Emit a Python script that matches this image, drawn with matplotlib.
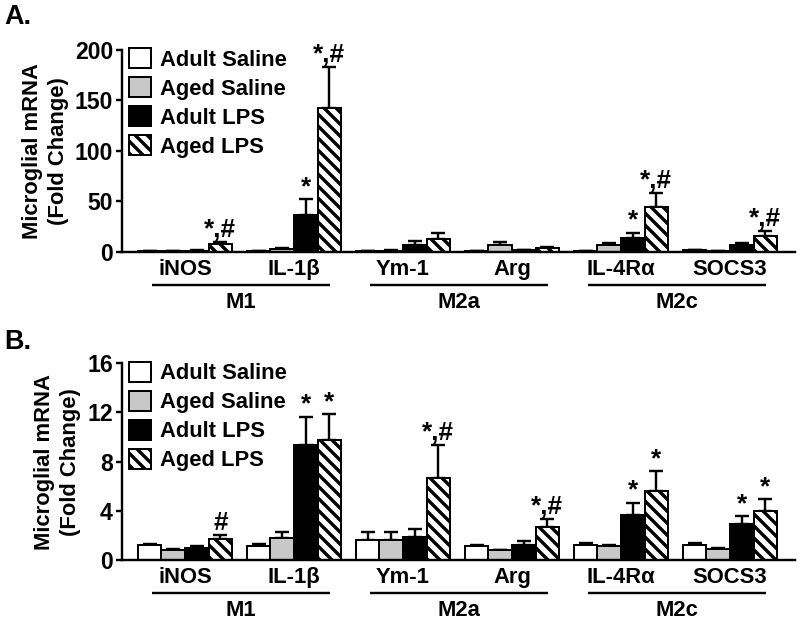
import matplotlib
matplotlib.use('Agg')
import matplotlib.pyplot as plt
import matplotlib.transforms as mtransforms
import numpy as np

matplotlib.rc('font', family=['Liberation Sans', 'DejaVu Sans'], weight='bold', size=10.5)
matplotlib.rc('axes', labelweight='bold')
matplotlib.rc('hatch', linewidth=1.7)

genes = ['iNOS', 'IL-1β', 'Ym-1', 'Arg', 'IL-4Rα', 'SOCS3']
phenotypes = ['M1', 'M2a', 'M2c']
groups = ['Adult Saline', 'Aged Saline', 'Adult LPS', 'Aged LPS']

# panel A values (fold change) and SEM
a_adult_sal = [1.0, 1.0, 1.0, 1.0, 1.0, 1.5]
a_aged_sal = [0.7, 2.5, 1.2, 7.3, 7.0, 1.0]
a_adult_lps = [1.2, 37.0, 7.0, 1.5, 14.0, 7.0]
a_aged_lps = [7.5, 143.0, 13.0, 3.7, 45.0, 16.0]
a_adult_sal_err = [0.2, 0.3, 0.3, 0.3, 0.3, 0.3]
a_aged_sal_err = [0.2, 1.0, 0.5, 2.5, 1.5, 0.3]
a_adult_lps_err = [0.3, 15.0, 4.0, 0.5, 5.0, 1.5]
a_aged_lps_err = [2.5, 40.0, 6.0, 1.5, 13.0, 4.5]
a_marks = [['', '', '', '*,#'], ['', '', '*', '*,#'], ['', '', '', ''],
           ['', '', '', ''], ['', '', '*', '*,#'], ['', '', '', '*,#']]

# panel B values (fold change) and SEM
b_adult_sal = [1.2, 1.15, 1.65, 1.15, 1.2, 1.2]
b_aged_sal = [0.8, 1.8, 1.65, 0.8, 1.1, 0.9]
b_adult_lps = [1.0, 9.35, 1.9, 1.2, 3.65, 2.95]
b_aged_lps = [1.7, 9.75, 6.7, 2.7, 5.6, 3.95]
b_adult_sal_err = [0.1, 0.15, 0.65, 0.05, 0.2, 0.2]
b_aged_sal_err = [0.1, 0.45, 0.6, 0.05, 0.1, 0.1]
b_adult_lps_err = [0.1, 2.3, 0.6, 0.35, 1.0, 0.6]
b_aged_lps_err = [0.3, 2.1, 2.65, 0.6, 1.6, 0.97]
b_marks = [['', '', '', '#'], ['', '', '*', '*'], ['', '', '', '*,#'],
           ['', '', '', '*,#'], ['', '', '*', '*'], ['', '', '*', '*']]

a_yticks = [0, 50, 100, 150, 200]
b_yticks = [0, 4, 8, 12, 16]

faces = ['white', '#c8c8c8', 'black', 'white']
hatches = [None, None, None, '\\\\\\\\']
width = 0.216

fig = plt.figure(figsize=(800 / 144, 627 / 144), dpi=144)


def panel(rect, means, errs, marks, yticks, letter, letter_y):
    ax = fig.add_axes(rect)
    x = np.arange(len(genes))
    handles = []
    for j in range(4):
        xs = x + (j - 1.5) * width
        m = np.array(means[j])
        e = np.array(errs[j])
        ax.errorbar(xs, m, yerr=[np.zeros_like(e), e], fmt='none', ecolor='black',
                    elinewidth=1.2, capsize=3.6, capthick=1.2, zorder=1)
        b = ax.bar(xs, m, width, color=faces[j], edgecolor='black', linewidth=1.0,
                   hatch=hatches[j], label=groups[j], zorder=2)
        handles.append(b)
        for i in range(len(genes)):
            if marks[i][j]:
                ax.annotate(marks[i][j], (xs[i], m[i] + e[i]), xytext=(0, 0),
                            textcoords='offset points', ha='center', va='bottom',
                            fontsize=13)
    ax.set_xlim(-0.578, 5.596)
    ax.set_ylim(yticks[0], yticks[-1])
    ax.set_yticks(yticks)
    ax.set_xticks([])
    ax.tick_params(axis='y', width=1.2, length=3, pad=1.5, labelsize=11.5)
    ax.spines['right'].set_visible(False)
    ax.spines['top'].set_visible(False)
    ax.spines['left'].set_linewidth(1.2)
    ax.spines['bottom'].set_linewidth(1.2)
    ax.set_ylabel('Microglial mRNA\n(Fold Change)', fontsize=11, labelpad=3,
                  linespacing=1.3)

    ax.legend(handles=handles, loc='upper left', bbox_to_anchor=(-0.012, 1.085),
              frameon=False, fontsize=11, handlelength=1.0, handleheight=1.0,
              handletextpad=0.4, labelspacing=0.3, borderaxespad=0.3)

    # gene labels, phenotype underlines and names
    base = mtransforms.blended_transform_factory(ax.transData, ax.transAxes)
    under = mtransforms.offset_copy(base, fig=fig, y=-16.5, units='points')
    for i, g in enumerate(genes):
        ax.annotate(g, (x[i], 0), xycoords=('data', 'axes fraction'),
                    xytext=(0, -9), textcoords='offset points',
                    ha='center', va='center', fontsize=11, annotation_clip=False)
    for k, p in enumerate(phenotypes):
        x0 = x[2 * k] - 0.30
        x1 = x[2 * k + 1] + 0.33
        ax.plot([x0, x1], [0, 0], color='black', lw=1.2, transform=under,
                clip_on=False, solid_capstyle='butt')
        ax.annotate(p, ((x0 + x1) / 2, 0), xycoords=('data', 'axes fraction'),
                    xytext=(0, -25.5), textcoords='offset points',
                    ha='center', va='center', fontsize=11, annotation_clip=False)
    fig.text(0.005, letter_y, letter, fontsize=13.5, ha='left', va='center')
    return ax


axA = panel([0.1525, 0.5981, 0.84125, 0.3222],
            [a_adult_sal, a_aged_sal, a_adult_lps, a_aged_lps],
            [a_adult_sal_err, a_aged_sal_err, a_adult_lps_err, a_aged_lps_err],
            a_marks, a_yticks, 'A.', 1 - 17 / 627)
axB = panel([0.1525, 0.1069, 0.84125, 0.3137],
            [b_adult_sal, b_aged_sal, b_adult_lps, b_aged_lps],
            [b_adult_sal_err, b_aged_sal_err, b_adult_lps_err, b_aged_lps_err],
            b_marks, b_yticks, 'B.', 1 - 342 / 627)

fig.savefig('out.png', dpi=144)
